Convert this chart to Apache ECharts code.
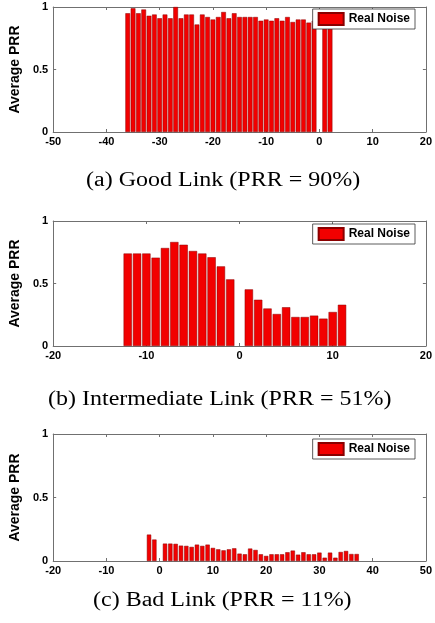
<!DOCTYPE html>
<html>
<head>
<meta charset="utf-8">
<script src="https://cdn.jsdelivr.net/npm/echarts@6/dist/echarts.min.js"></script>
<style>html,body{margin:0;padding:0;background:#fff}#c{width:435px;height:623px}</style>
</head>
<body>
<div id="c"></div>
<script>
// ---- data ----
const seriesName = 'Real Noise';
const yLabel = 'Average PRR';
const captions = ['(a) Good Link (PRR = 90%)', '(b) Intermediate Link (PRR = 51%)', '(c) Bad Link (PRR = 11%)'];

const goodX = [-36,-35,-34,-33,-32,-31,-30,-29,-28,-27,-26,-25,-24,-23,-22,-21,-20,-19,-18,-17,-16,-15,-14,-13,-12,-11,-10,-9,-8,-7,-6,-5,-4,-3,-2,-1,1,2];
const goodY = [0.95,0.99,0.95,0.98,0.93,0.94,0.91,0.94,0.91,1.0,0.91,0.94,0.94,0.86,0.94,0.92,0.90,0.92,0.96,0.91,0.95,0.92,0.92,0.92,0.92,0.89,0.90,0.89,0.91,0.89,0.92,0.88,0.90,0.90,0.875,0.89,0.88,0.88];

const interX = [-12,-11,-10,-9,-8,-7,-6,-5,-4,-3,-2,-1,1,2,3,4,5,6,7,8,9,10,11];
const interY = [0.74,0.74,0.74,0.707,0.784,0.832,0.81,0.76,0.74,0.71,0.637,0.533,0.453,0.37,0.30,0.256,0.31,0.232,0.232,0.243,0.219,0.272,0.33];

const badX = [-2,-1,1,2,3,4,5,6,7,8,9,10,11,12,13,14,15,16,17,18,19,20,21,22,23,24,25,26,27,28,29,30,31,32,33,34,35,36,37];
const badY = [0.208,0.169,0.137,0.137,0.135,0.121,0.119,0.111,0.129,0.119,0.129,0.103,0.092,0.084,0.092,0.10,0.058,0.053,0.098,0.087,0.053,0.04,0.053,0.053,0.053,0.069,0.082,0.05,0.069,0.053,0.053,0.066,0.026,0.066,0.026,0.071,0.079,0.055,0.055];

const xRanges = [[-50, 20], [-20, 20], [-20, 50]];
const yTicks = [0, 0.5, 1];

// ---- layout ----
const panels = [
  {top: 7, height: 125, legendTop: 9, capY: 181, capX: 86, barW: 4.7},
  {top: 221, height: 125, legendTop: 224, capY: 400, capX: 48, barW: 8.3},
  {top: 434, height: 127, legendTop: 439, capY: 601, capX: 93, barW: 4.3}
];
const dataSets = [[goodX, goodY], [interX, interY], [badX, badY]];

const axisCol = '#707070';
const tickFont = {fontFamily: 'Liberation Sans, Arial', fontWeight: 'bold', fontSize: 11, color: '#000'};

const grid = [], xAxis = [], yAxis = [], series = [], legend = [], graphic = [];
panels.forEach((p, i) => {
  grid.push({left: 49, width: 379, top: p.top, height: p.height});
  xAxis.push({type: 'value', gridIndex: i, min: xRanges[i][0], max: xRanges[i][1], interval: 10, position: 'bottom',
    axisLine: {show: true, onZero: false, lineStyle: {color: axisCol, width: 1}},
    axisTick: {show: true, inside: true, length: 3, lineStyle: {color: axisCol}},
    axisLabel: Object.assign({margin: 4}, tickFont), splitLine: {show: false}});
  xAxis.push({type: 'value', gridIndex: i, min: xRanges[i][0], max: xRanges[i][1], interval: 10, position: 'top',
    axisLine: {show: true, onZero: false, lineStyle: {color: axisCol, width: 1}},
    axisTick: {show: true, inside: true, length: 3, lineStyle: {color: axisCol}},
    axisLabel: {show: false}, splitLine: {show: false}});
  yAxis.push({type: 'value', gridIndex: i, min: yTicks[0], max: yTicks[2], interval: 0.5, position: 'left',
    name: yLabel, nameLocation: 'middle', nameGap: 22,
    nameTextStyle: {fontFamily: 'Liberation Sans, Arial', fontWeight: 'bold', fontSize: 14, color: '#000'},
    axisLine: {show: true, onZero: false, lineStyle: {color: axisCol, width: 1}},
    axisTick: {show: true, inside: true, length: 3, lineStyle: {color: axisCol}},
    axisLabel: Object.assign({margin: 5, formatter: v => String(v)}, tickFont), splitLine: {show: false}});
  yAxis.push({type: 'value', gridIndex: i, min: yTicks[0], max: yTicks[2], interval: 0.5, position: 'right',
    axisLine: {show: true, onZero: false, lineStyle: {color: axisCol, width: 1}},
    axisTick: {show: true, inside: true, length: 3, lineStyle: {color: axisCol}},
    axisLabel: {show: false}, splitLine: {show: false}});
  const xs = dataSets[i][0], ys = dataSets[i][1];
  series.push({name: seriesName, type: 'bar', xAxisIndex: i * 2, yAxisIndex: i * 2,
    barWidth: p.barW, data: xs.map((x, k) => [x, ys[k]]),
    itemStyle: {color: '#f20000', borderColor: '#8a0000', borderWidth: 0.5},
    animation: false, z: 2});
  legend.push({top: p.legendTop, right: 20, orient: 'horizontal', data: [seriesName],
    padding: [3, 5], itemWidth: 25, itemHeight: 12, icon: 'rect',
    backgroundColor: '#fff', borderColor: '#333', borderWidth: 0.8, z: 10,
    textStyle: {fontFamily: 'Liberation Sans, Arial', fontWeight: 'bold', fontSize: 12, color: '#000'}});
  graphic.push({type: 'text', x: p.capX, y: p.capY, scaleX: 1.2,
    style: {text: captions[i], font: '20px "Liberation Serif", "Times New Roman", serif', fill: '#000',
      textAlign: 'left', verticalAlign: 'middle'}});
});

const chart = echarts.init(document.getElementById('c'), null, {renderer: 'canvas'});
chart.setOption({animation: false, backgroundColor: '#fff', grid, xAxis, yAxis, series, legend, graphic});
</script>
</body>
</html>
